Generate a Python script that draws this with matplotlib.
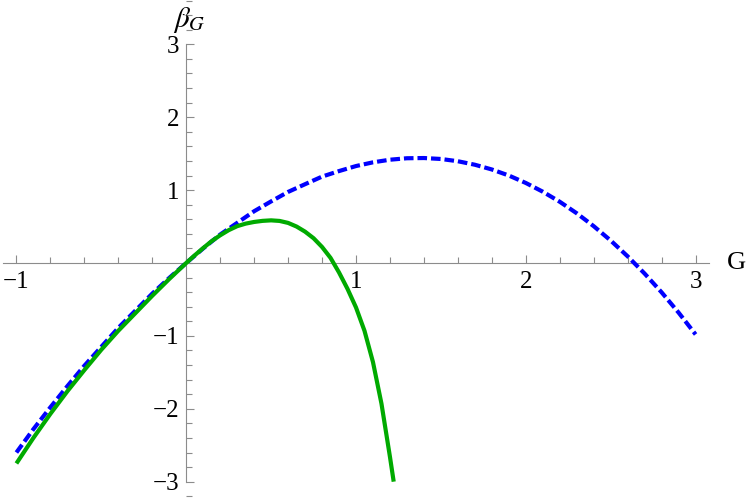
import matplotlib
matplotlib.use("Agg")
import matplotlib.pyplot as plt
from matplotlib.ticker import MultipleLocator, FixedLocator

# Fonts close to the Times look of the original
plt.rcParams.update({
    "font.family": "serif",
    "font.serif": ["Liberation Serif", "DejaVu Serif"],
    "mathtext.fontset": "stix",
    "font.size": 18,
})

# Values
g_dashed = [-1.0, -0.9, -0.8, -0.7, -0.6, -0.5, -0.4, -0.3, -0.2, -0.1, 0.0,
            0.1, 0.2, 0.3, 0.4, 0.5, 0.6, 0.7, 0.8, 0.9, 1.0,
            1.1, 1.2, 1.3, 1.4, 1.5, 1.6, 1.7, 1.8, 1.9, 2.0,
            2.1, 2.2, 2.3, 2.4, 2.5, 2.6, 2.7, 2.8, 2.9, 3.0]
beta_dashed = [-2.60, -2.28, -1.98, -1.69, -1.41, -1.15, -0.89, -0.655, -0.42, -0.205, 0.0,
               0.20, 0.39, 0.55, 0.71, 0.845, 0.975, 1.081, 1.185, 1.261, 1.33,
               1.381, 1.417, 1.437, 1.44, 1.427, 1.396, 1.348, 1.283, 1.200, 1.098,
               0.978, 0.840, 0.682, 0.505, 0.308, 0.091, -0.146, -0.403, -0.681, -0.98]

g_solid = [-1.0, -0.9, -0.8, -0.7, -0.6, -0.5, -0.4, -0.3, -0.2, -0.1, 0.0,
           0.05, 0.1, 0.15, 0.2, 0.25, 0.3, 0.35, 0.4, 0.45, 0.5, 0.55, 0.6,
           0.65, 0.7, 0.75, 0.8, 0.85, 0.9, 0.95, 1.0, 1.05, 1.1, 1.15, 1.2, 1.222]
beta_solid = [-2.75, -2.40, -2.07, -1.76, -1.47, -1.19, -0.93, -0.69, -0.45, -0.22, 0.0,
              0.105, 0.205, 0.30, 0.38, 0.45, 0.505, 0.54, 0.563, 0.578, 0.585, 0.577, 0.55,
              0.50, 0.43, 0.34, 0.22, 0.07, -0.13, -0.355, -0.61, -0.93, -1.36, -1.93, -2.66, -3.0]

x_major = [-1, 1, 2, 3]
y_major = [-3, -2, -1, 1, 2, 3]

fig = plt.figure(figsize=(7.48, 4.98), dpi=100)
ax = fig.add_axes([0, 0, 1, 1])

ax.plot(g_dashed, beta_dashed, color=(0, 0, 1), lw=3, dashes=(2.3, 0.95),
        dash_capstyle="butt", zorder=3)
ax.plot(g_solid, beta_solid, color="#00aa00", lw=3, solid_capstyle="butt",
        solid_joinstyle="round", zorder=4)

ax.set_xlim(-1.0966, 3.3086)
ax.set_ylim(-3.224, 3.608)

# axes through the origin, Mathematica style
axis_grey = "#8c8c8c"
for side in ["top", "right"]:
    ax.spines[side].set_visible(False)
ax.spines["left"].set_position(("data", 0))
ax.spines["bottom"].set_position(("data", 0))
ax.spines["left"].set_bounds(-3, 3)
ax.spines["bottom"].set_bounds(-1.08, 3.08)
for side in ["left", "bottom"]:
    ax.spines[side].set_color(axis_grey)
    ax.spines[side].set_linewidth(0.8)
ax.patch.set_visible(False)

ax.xaxis.set_major_locator(FixedLocator(x_major))
ax.yaxis.set_major_locator(FixedLocator(y_major))
ax.xaxis.set_minor_locator(MultipleLocator(0.2))
ax.yaxis.set_minor_locator(MultipleLocator(0.2))
ax.tick_params(which="both", direction="in", color=axis_grey, width=0.8)
ax.tick_params(which="major", length=6)
ax.tick_params(which="minor", length=4)
ax.tick_params(axis="x", which="major", pad=6)
ax.tick_params(axis="y", which="major", pad=5)

# axis labels at the ends of the axes
ax.text(3.24, 0, "G", ha="center", va="center", fontsize=19)
ax.text(0.016, 3.33, r"$\beta_G$", ha="center", va="center", fontsize=21)

plt.savefig("out.png", dpi=100)
